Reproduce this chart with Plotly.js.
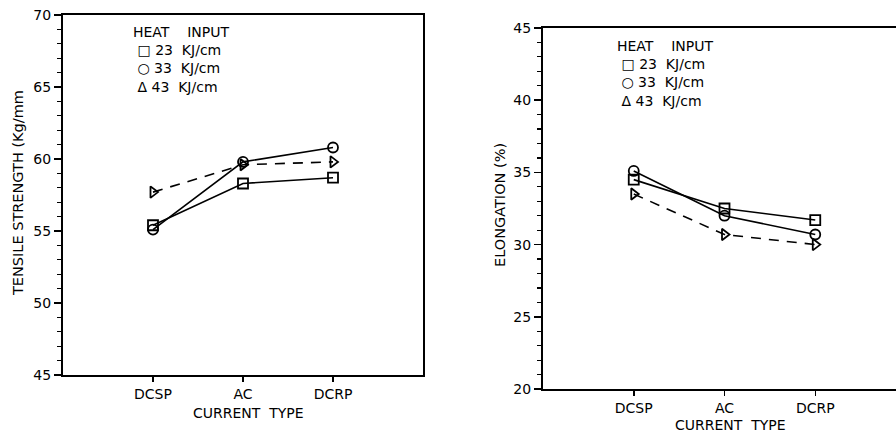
<!DOCTYPE html>
<html>
<head>
<meta charset="utf-8">
<script src="https://cdn.plot.ly/plotly-3.0.1.min.js"></script>
<style>
  html, body { margin: 0; padding: 0; background: #fff; overflow: hidden; width: 896px; height: 439px; }
  #chart { width: 912px; height: 439px; }
</style>
</head>
<body>
<div id="chart"></div>
<script>
// ---- data ----
const categories = ['DCSP', 'AC', 'DCRP'];
const heatInputs = ['23', '33', '43'];
const tensile23 = [55.4, 58.3, 58.7];
const tensile33 = [55.1, 59.8, 60.8];
const tensile43 = [57.7, 59.6, 59.8];
const elong23 = [34.5, 32.5, 31.7];
const elong33 = [35.1, 32.0, 30.7];
const elong43 = [33.5, 30.7, 30.0];
const yTitleLeft = 'TENSILE STRENGTH (Kg/mm';
const yTitleRight = 'ELONGATION (%)';
const xTitle = 'CURRENT\u00A0\u00A0TYPE';

// ---- layout helpers ----
const W = 912, H = 439;
const px = x => x / W;
const py = y => 1 - y / H;
const FONT = 'DejaVu Sans, Verdana, sans-serif';
const INK = '#000';
const NB = '\u00A0';

const styles = [
  {symbol: 'square-open', dash: 'solid'},
  {symbol: 'circle-open', dash: 'solid'},
  {symbol: 'triangle-right-open', dash: 'dash'}
];

function mk(yvals, i, xa, ya) {
  return {
    x: categories, y: yvals, xaxis: xa, yaxis: ya,
    type: 'scatter', mode: 'lines+markers',
    name: heatInputs[i] + ' KJ/cm',
    line: {color: INK, width: 1.6, dash: styles[i].dash === 'dash' ? '10px,8px' : 'solid'},
    marker: {symbol: styles[i].symbol, size: 10, color: INK, line: {width: 1.8, color: INK}},
    showlegend: false, cliponaxis: false
  };
}

const data = [
  mk(tensile23, 0, 'x', 'y'),
  mk(tensile33, 1, 'x', 'y'),
  mk(tensile43, 2, 'x', 'y'),
  mk(elong23, 0, 'x2', 'y2'),
  mk(elong33, 1, 'x2', 'y2'),
  mk(elong43, 2, 'x2', 'y2')
];

function xax(domain) {
  return {
    domain: domain, type: 'category', range: [-1, 3],
    showline: true, mirror: true, linecolor: INK, linewidth: 2,
    showgrid: false, zeroline: false,
    ticks: 'outside', ticklen: 5, tickwidth: 1.5, tickcolor: INK,
    tickfont: {family: FONT, size: 14, color: INK}, fixedrange: true
  };
}
function yax(domain, range) {
  return {
    domain: domain, range: range, dtick: 5, tick0: range[0],
    showline: true, mirror: true, linecolor: INK, linewidth: 2,
    showgrid: false, zeroline: false,
    ticks: 'outside', ticklen: 7, tickwidth: 1.5, tickcolor: INK,
    minor: {dtick: 1, ticks: 'outside', ticklen: 4, tickwidth: 1.2, tickcolor: INK, showgrid: false},
    tickfont: {family: FONT, size: 14, color: INK}, fixedrange: true
  };
}

function legendText() {
  const syms = ['<b>\u25A1</b>', '<b>\u25CB</b>', '\u0394'];
  const rows = ['HEAT' + NB.repeat(4) + 'INPUT'];
  heatInputs.forEach((h, i) => {
    rows.push(NB + syms[i] + NB + h + NB + NB + 'KJ/cm');
  });
  return rows.join('<br>');
}
function legendAnn(x0, yTop) {
  return {
    text: legendText(), x: px(x0), y: py(yTop),
    xref: 'paper', yref: 'paper', xanchor: 'left', yanchor: 'top', align: 'left',
    showarrow: false, font: {family: FONT, size: 14, color: INK}
  };
}

const annotations = [
  {text: yTitleLeft, x: px(18), y: py(193), textangle: -90, font: {family: FONT, size: 14.5, color: INK}},
  {text: yTitleRight, x: px(500), y: py(205), textangle: -90, font: {family: FONT, size: 14.5, color: INK}},
  {text: xTitle, x: px(248), y: py(413)},
  {text: xTitle, x: px(730), y: py(425)}
].map(a => Object.assign({
  xref: 'paper', yref: 'paper', xanchor: 'center', yanchor: 'middle', showarrow: false,
  font: {family: FONT, size: 14, color: INK}
}, a)).concat([legendAnn(131, 22), legendAnn(615, 36)]);

const layout = {
  width: W, height: H,
  margin: {l: 0, r: 0, t: 0, b: 0},
  paper_bgcolor: '#fff', plot_bgcolor: '#fff',
  showlegend: false,
  xaxis: xax([px(63), px(423)]),
  yaxis: yax([py(375), py(15)], [45, 70]),
  xaxis2: xax([px(543), px(906)]),
  yaxis2: yax([py(389), py(28)], [20, 45]),
  annotations: annotations
};
layout.xaxis.anchor = 'y';
layout.yaxis.anchor = 'x';
layout.xaxis2.anchor = 'y2';
layout.yaxis2.anchor = 'x2';

Plotly.newPlot('chart', data, layout, {displayModeBar: false, staticPlot: true});
</script>
</body>
</html>
